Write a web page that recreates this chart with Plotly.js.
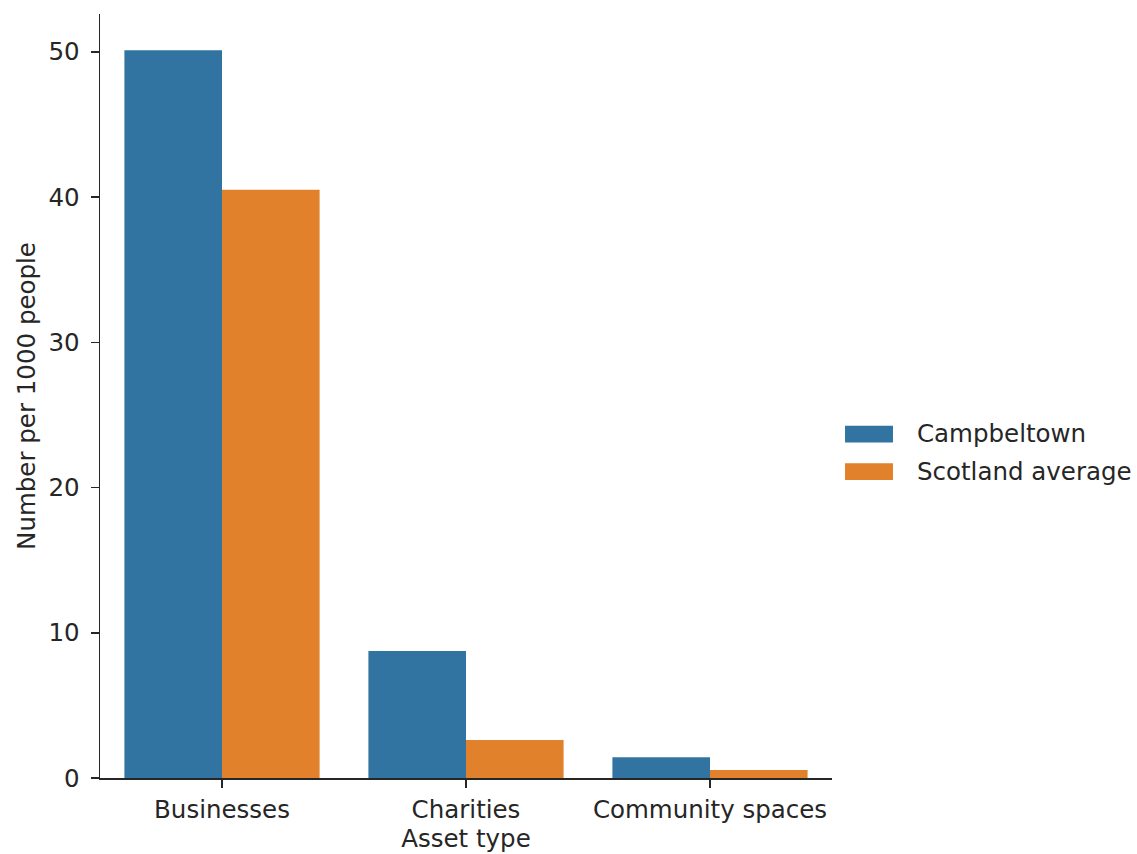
<!DOCTYPE html>
<html>
<head>
<meta charset="utf-8">
<script src="https://cdn.plot.ly/plotly-3.0.1.min.js"></script>
<style>html,body{margin:0;padding:0;background:#fff;}#chart{width:1137px;height:854px;}</style>
</head>
<body>
<div id="chart"></div>
<script>
const categories = ["Businesses", "Charities", "Community spaces"];
const campbeltown = [50.1, 8.75, 1.43];
const scotlandAverage = [40.5, 2.62, 0.55];
const seriesNames = ["Campbeltown", "Scotland average"];
const seriesColors = ["#3274A1", "#E1812C"];
const yTicks = [0, 10, 20, 30, 40, 50];

const font = {family: "DejaVu Sans, sans-serif", size: 24.5, color: "#262626"};

const data = [
  {type: "bar", name: seriesNames[0], x: categories, y: campbeltown,
   marker: {color: seriesColors[0], line: {width: 0}}, showlegend: false},
  {type: "bar", name: seriesNames[1], x: categories, y: scotlandAverage,
   marker: {color: seriesColors[1], line: {width: 0}}, showlegend: false}
];

// custom legend (matplotlib-style wide patches)
const legendRows = [{y0: 0.439, y1: 0.461, ty: 0.451}, {y0: 0.390, y1: 0.412, ty: 0.401}];
const shapes = seriesNames.map((n, i) => ({
  type: "rect", xref: "paper", yref: "paper",
  x0: 1.0178, x1: 1.0833, y0: legendRows[i].y0, y1: legendRows[i].y1,
  fillcolor: seriesColors[i], line: {width: 0}
}));
const annotations = seriesNames.map((n, i) => ({
  text: n, xref: "paper", yref: "paper", x: 1.113, y: legendRows[i].ty,
  xanchor: "left", yanchor: "middle", showarrow: false, font: font
}));

const layout = {
  width: 1137, height: 854,
  margin: {l: 100, r: 305, t: 14, b: 76},
  paper_bgcolor: "#fff", plot_bgcolor: "#fff",
  font: font,
  barmode: "group", bargap: 0.2, bargroupgap: 0,
  showlegend: false,
  shapes: shapes,
  annotations: annotations,
  xaxis: {
    type: "category", range: [-0.5, 2.5],
    showline: true, linecolor: "#262626", linewidth: 1.5,
    ticks: "outside", ticklen: 8, tickwidth: 1.5, tickcolor: "#262626",
    showgrid: false, zeroline: false, automargin: false,
    ticklabelstandoff: 1,
    title: {text: "Asset type", font: font, standoff: 4}
  },
  yaxis: {
    range: [0, 52.6], tickvals: yTicks, ticktext: yTicks.map(String),
    showline: true, linecolor: "#262626", linewidth: 1.5,
    ticks: "outside", ticklen: 8, tickwidth: 1.5, tickcolor: "#262626",
    showgrid: false, zeroline: false, automargin: false,
    ticklabelstandoff: 6,
    title: {text: "Number per 1000 people", font: font, standoff: 6}
  }
};

Plotly.newPlot("chart", data, layout, {displayModeBar: false, staticPlot: true});
</script>
</body>
</html>
